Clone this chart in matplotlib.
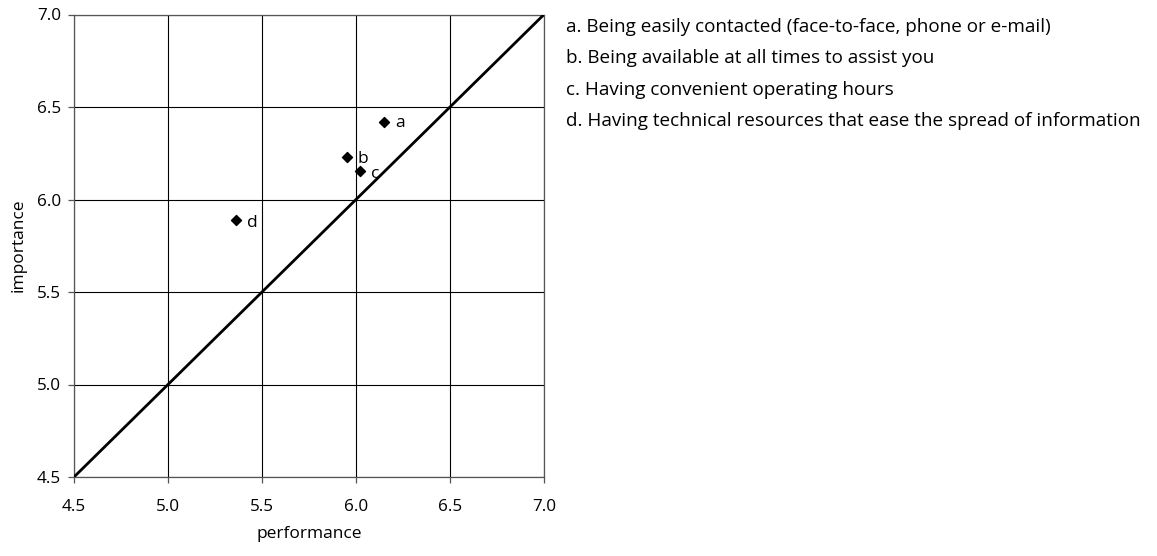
import matplotlib
matplotlib.use("Agg")
import matplotlib.pyplot as plt

labels = ["a", "b", "c", "d"]
performance = [6.15, 5.95, 6.02, 5.36]
importance = [6.42, 6.23, 6.155, 5.89]
descriptions = [
    "a. Being easily contacted (face-to-face, phone or e-mail)",
    "b. Being available at all times to assist you",
    "c. Having convenient operating hours",
    "d. Having technical resources that ease the spread of information",
]
ticks = [4.5, 5.0, 5.5, 6.0, 6.5, 7.0]

plt.rcParams['font.family'] = ['Open Sans', 'DejaVu Sans']

fig = plt.figure(figsize=(11.57, 5.56), dpi=100)
ax = fig.add_axes([74/1157, 79/556, 470/1157, 462.5/556])

ax.set_xlim(4.5, 7.0)
ax.set_ylim(4.5, 7.0)
ax.set_xticks(ticks)
ax.set_yticks(ticks)
ax.set_xticklabels([f"{t:.1f}" for t in ticks], fontsize=12.3)
ax.set_yticklabels([f"{t:.1f}" for t in ticks], fontsize=12.3)
ax.grid(True, color="black", linewidth=0.8)
ax.set_axisbelow(True)
for s in ax.spines.values():
    s.set_color("#555555")
    s.set_linewidth(0.9)
ax.tick_params(axis="x", direction="out", length=4.5, width=0.9, color="#555555", pad=11)
ax.tick_params(axis="y", direction="out", length=4.5, width=0.9, color="#555555", pad=5)

ax.plot([4.5, 7.0], [4.5, 7.0], color="black", linewidth=2.0, zorder=3)
ax.scatter(performance, importance, marker="D", s=26, color="black", zorder=4)
offsets = {"a": (8, -1), "b": (8, -1.5), "c": (8, -2), "d": (8, -2)}
for lab, x, y in zip(labels, performance, importance):
    dx, dy = offsets[lab]
    ax.annotate(lab, (x, y), xytext=(dx, dy), textcoords="offset points",
                fontsize=12.5, va="center", ha="left")

ax.set_xlabel("performance", fontsize=12.5, labelpad=8)
ax.set_ylabel("importance", fontsize=12.5, labelpad=7)

for i, d in enumerate(descriptions):
    fig.text(566/1157, 1 - (27 + 31.3*i)/556, d, fontsize=13.6, va="center", ha="left")

fig.savefig("out.png", dpi=100)
